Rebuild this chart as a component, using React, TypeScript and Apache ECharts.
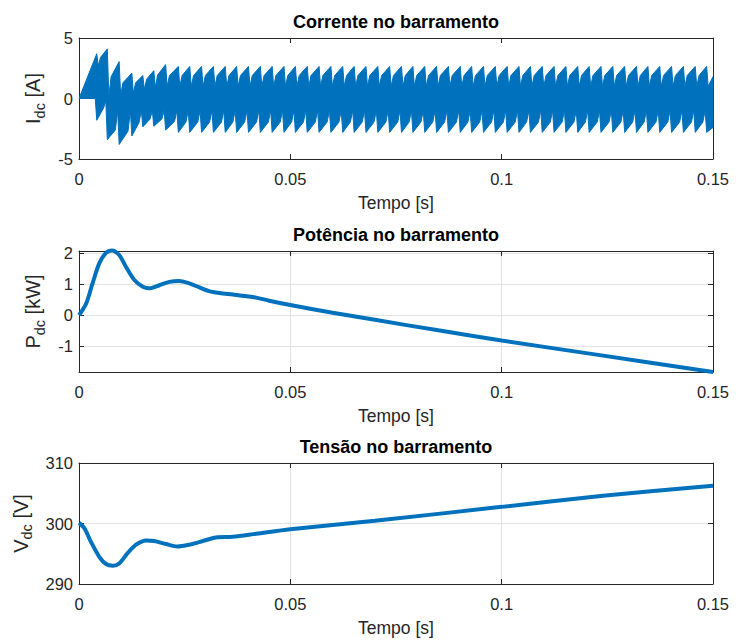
import React, { useEffect, useRef } from "react";
import * as echarts from "echarts";

// ---------- Data ----------
// Time axis ticks [s]
const xTicks = [0, 0.05, 0.1, 0.15];

// Corrente no barramento: envelope of the switching current, one entry per ripple tooth
const toothPeakMs = [
  4.2, 6.7, 9.5, 12.5, 15.1, 17.7, 20.5, 23.5,
  26.2, 29.0, 31.8, 34.6, 37.3, 40.1, 42.9, 45.7, 48.5, 51.2,
  54.0, 56.8, 59.6, 62.4, 65.1, 67.9, 70.7, 73.5, 76.3, 79.0,
  81.8, 84.6, 87.4, 90.2, 92.9, 95.7, 98.5, 101.3, 104.1, 106.8,
  109.6, 112.4, 115.2, 118.0, 120.7, 123.5, 126.3, 129.1, 131.9, 134.6,
  137.4, 140.2, 143.0, 145.8, 148.5,
];
const upperPeakA = [
  3.7, 4.1, 3.05, 2.1, 1.9, 2.3, 2.8, 2.65,
  2.65, 2.65, 2.65, 2.65, 2.65, 2.65, 2.65, 2.65, 2.65, 2.65,
  2.65, 2.65, 2.65, 2.65, 2.65, 2.65, 2.65, 2.65, 2.65, 2.65,
  2.65, 2.65, 2.65, 2.65, 2.65, 2.65, 2.65, 2.65, 2.65, 2.65,
  2.65, 2.65, 2.65, 2.65, 2.65, 2.65, 2.65, 2.65, 2.65, 2.65,
  2.65, 2.65, 2.65, 2.65, 2.65,
];
// shoulder of the rising edge before each peak (null = straight ramp)
const upperShoulderA: (number | null)[] = [
  null, 3.4, 1.8, 1.3, 1.3, 1.6, 1.95, 1.9,
  1.9, 1.9, 1.9, 1.9, 1.9, 1.9, 1.9, 1.9, 1.9, 1.9,
  1.9, 1.9, 1.9, 1.9, 1.9, 1.9, 1.9, 1.9, 1.9, 1.9,
  1.9, 1.9, 1.9, 1.9, 1.9, 1.9, 1.9, 1.9, 1.9, 1.9,
  1.9, 1.9, 1.9, 1.9, 1.9, 1.9, 1.9, 1.9, 1.9, 1.9,
  1.9, 1.9, 1.9, 1.9, 1.9,
];
const upperNotchA = [
  2.7, 0.2, 0.3, 0.45, 0.75, 0.9, 1.0, 1.0,
  1.0, 1.0, 1.0, 1.0, 1.0, 1.0, 1.0, 1.0, 1.0, 1.0,
  1.0, 1.0, 1.0, 1.0, 1.0, 1.0, 1.0, 1.0, 1.0, 1.0,
  1.0, 1.0, 1.0, 1.0, 1.0, 1.0, 1.0, 1.0, 1.0, 1.0,
  1.0, 1.0, 1.0, 1.0, 1.0, 1.0, 1.0, 1.0, 1.0, 1.0,
  1.0, 1.0, 1.0, 1.0, 1.0,
];
const lowerTipA = [
  -1.8, -3.4, -3.8, -3.1, -2.35, -2.3, -2.6, -2.8,
  -2.8, -2.8, -2.8, -2.8, -2.8, -2.8, -2.8, -2.8, -2.8, -2.8,
  -2.8, -2.8, -2.8, -2.8, -2.8, -2.8, -2.8, -2.8, -2.8, -2.8,
  -2.8, -2.8, -2.8, -2.8, -2.8, -2.8, -2.8, -2.8, -2.8, -2.8,
  -2.8, -2.8, -2.8, -2.8, -2.8, -2.8, -2.8, -2.8, -2.8, -2.8,
  -2.8, -2.8, -2.8, -2.8, -2.8,
];
// shoulder of the recovering edge after each tip (null = straight)
const lowerShoulderA: (number | null)[] = [
  -0.8, -2.6, -2.7, -2.0, -1.7, -1.7, -1.9, -1.95,
  -1.95, -1.95, -1.95, -1.95, -1.95, -1.95, -1.95, -1.95, -1.95, -1.95,
  -1.95, -1.95, -1.95, -1.95, -1.95, -1.95, -1.95, -1.95, -1.95, -1.95,
  -1.95, -1.95, -1.95, -1.95, -1.95, -1.95, -1.95, -1.95, -1.95, -1.95,
  -1.95, -1.95, -1.95, -1.95, -1.95, -1.95, -1.95, -1.95, -1.95, -1.95,
  -1.95, -1.95, -1.95, -1.95, null,
];
const lowerNotchA = [
  0, -0.2, -1.0, -1.0, -1.0, -1.0, -1.0, -1.0,
  -1.0, -1.0, -1.0, -1.0, -1.0, -1.0, -1.0, -1.0, -1.0, -1.0,
  -1.0, -1.0, -1.0, -1.0, -1.0, -1.0, -1.0, -1.0, -1.0, -1.0,
  -1.0, -1.0, -1.0, -1.0, -1.0, -1.0, -1.0, -1.0, -1.0, -1.0,
  -1.0, -1.0, -1.0, -1.0, -1.0, -1.0, -1.0, -1.0, -1.0, -1.0,
  -1.0, -1.0, -1.0, -1.0, -1.0,
];
const toothDropMs = 0.35;
const toothShoulderMs = 0.55;
const currentEndA = [1.8, -2.4]; // upper, lower at t = 0.15 s

// Potência no barramento [kW]
const powerMs = [0, 1.7, 3.2, 4.8, 6.4, 7.8, 9.5, 11.1, 13.1, 15.1, 16.6, 19.0, 21.4, 23.7, 26.1, 28.5, 30.8, 33.2, 36.4, 38.1, 41.9, 45, 50, 60, 70, 85, 100, 124, 150];
const powerKW = [0, 0.38, 1.03, 1.68, 2.02, 2.1, 1.95, 1.57, 1.14, 0.92, 0.87, 0.97, 1.08, 1.11, 1.03, 0.9, 0.78, 0.72, 0.67, 0.64, 0.57, 0.47, 0.33, 0.08, -0.15, -0.49, -0.82, -1.31, -1.84];

// Tensão no barramento [V]
const voltMs = [0, 1.3, 2.8, 4.8, 6.4, 8.0, 9.5, 11.5, 13.5, 15.9, 17.8, 20.6, 23.3, 26.1, 29.3, 32.4, 36.4, 41.9, 50, 70, 100, 124, 150];
const voltV = [300.1, 299.2, 297.0, 294.5, 293.3, 293.0, 293.4, 295.1, 296.5, 297.2, 297.1, 296.6, 296.2, 296.5, 297.1, 297.7, 297.8, 298.3, 299.05, 300.45, 302.75, 304.6, 306.25];

const titles = ["Corrente no barramento", "Potência no barramento", "Tensão no barramento"];
const yNames = [
  "{m|I}{s|dc}{m| [A]}",
  "{m|P}{s|dc}{m| [kW]}",
  "{m|V}{s|dc}{m| [V]}",
];

// ---------- Chart ----------
const FONT = "'Liberation Sans', Arial, sans-serif";
const BLUE = "#0072BD";
const AX = "#262626";

export default function App() {
  const ref = useRef<HTMLDivElement>(null);

  useEffect(() => {
    if (!ref.current) return;
    const chart = echarts.init(ref.current, undefined, { renderer: "svg" });

    const last = toothPeakMs.length - 1;
    const upper: number[][] = [[0, 0]];
    const lower: number[][] = [[0, 0]];
    toothPeakMs.forEach((p, k) => {
      const sh = upperShoulderA[k];
      if (k > 0 && sh !== null) {
        upper.push([(toothPeakMs[k - 1] + toothDropMs + toothShoulderMs) / 1000, sh]);
      }
      upper.push([p / 1000, upperPeakA[k]]);
      upper.push([(p + toothDropMs) / 1000, upperNotchA[k]]);

      lower.push([(p - toothDropMs) / 1000, lowerNotchA[k]]);
      lower.push([p / 1000, lowerTipA[k]]);
      const ls = lowerShoulderA[k];
      if (k < last && ls !== null) {
        lower.push([(toothPeakMs[k + 1] - toothDropMs - toothShoulderMs) / 1000, ls]);
      }
    });
    upper.push([0.15, currentEndA[0]]);
    lower.push([0.15, currentEndA[1]]);
    const band = upper.concat(lower.slice().reverse());

    const power = powerMs.map((t, i) => [t / 1000, powerKW[i]]);
    const volt = voltMs.map((t, i) => [t / 1000, voltV[i]]);

    const grids = [
      { left: 79, top: 38, width: 634, height: 121 },
      { left: 79, top: 251, width: 634, height: 121 },
      { left: 79, top: 463, width: 634, height: 121 },
    ];
    const titleY = [22, 235, 447];
    const yCfg = [
      { min: -5, max: 5, interval: 5, grid: false, gap: 19 },
      { min: -1.84, max: 2.08, interval: undefined, grid: true, gap: 18 },
      { min: 290, max: 310, interval: 10, grid: true, gap: 29 },
    ];

    const tickStyle = { show: true, inside: true, length: 5, lineStyle: { color: AX, width: 1 } };
    const lineStyleAx = { show: true, onZero: false, lineStyle: { color: AX, width: 1 } };
    const gridLine = { show: true, lineStyle: { color: "#e2e2e2", width: 1 } };
    const labelTxt = { color: AX, fontSize: 16.5, fontFamily: FONT };

    const xAxis: any[] = [];
    const yAxis: any[] = [];
    for (let g = 0; g < 3; g++) {
      xAxis.push({
        type: "value",
        gridIndex: g,
        position: "bottom",
        min: xTicks[0],
        max: xTicks[xTicks.length - 1],
        interval: xTicks[1] - xTicks[0],
        axisLine: lineStyleAx,
        axisTick: tickStyle,
        axisLabel: { ...labelTxt, margin: 11, formatter: (v: number) => String(+v.toFixed(4)) },
        splitLine: yCfg[g].grid ? gridLine : { show: false },
        name: "Tempo [s]",
        nameLocation: "middle",
        nameGap: 35,
        nameTextStyle: { color: AX, fontSize: 17.5, fontFamily: FONT },
      });
    }
    for (let g = 0; g < 3; g++) {
      xAxis.push({
        type: "value",
        gridIndex: g,
        position: "top",
        min: xTicks[0],
        max: xTicks[xTicks.length - 1],
        interval: xTicks[1] - xTicks[0],
        axisLine: lineStyleAx,
        axisTick: tickStyle,
        axisLabel: { show: false },
        splitLine: { show: false },
      });
    }
    for (let g = 0; g < 3; g++) {
      const c = yCfg[g];
      yAxis.push({
        type: "value",
        gridIndex: g,
        position: "left",
        min: c.min,
        max: c.max,
        interval: c.interval,
        splitNumber: 4,
        axisLine: lineStyleAx,
        axisTick: tickStyle,
        axisLabel: {
          ...labelTxt,
          margin: 6,
          formatter: (v: number) => (Math.abs(v - Math.round(v)) < 1e-6 ? String(Math.round(v)) : ""),
        },
        splitLine: c.grid ? gridLine : { show: false },
        name: yNames[g],
        nameLocation: "middle",
        nameRotate: 90,
        nameGap: c.gap,
        nameTextStyle: {
          color: AX,
          fontFamily: FONT,
          rich: {
            m: { fontSize: 20, color: AX, fontFamily: FONT, verticalAlign: "middle" },
            s: { fontSize: 14.5, color: AX, fontFamily: FONT, verticalAlign: "bottom", padding: [13, 0, 0, 0] },
          },
        },
      });
    }
    for (let g = 0; g < 3; g++) {
      const c = yCfg[g];
      yAxis.push({
        type: "value",
        gridIndex: g,
        position: "right",
        min: c.min,
        max: c.max,
        interval: c.interval,
        splitNumber: 4,
        axisLine: lineStyleAx,
        axisTick: tickStyle,
        axisLabel: { show: false },
        splitLine: { show: false },
      });
    }

    const option: any = {
      animation: false,
      backgroundColor: "#ffffff",
      grid: grids,
      xAxis,
      yAxis,
      graphic: titles.map((t, i) => ({
        type: "text",
        x: 396,
        y: titleY[i],
        style: {
          text: t,
          textAlign: "center",
          textVerticalAlign: "middle",
          fontSize: 18,
          fontWeight: "bold",
          fontFamily: FONT,
          fill: "#000",
        },
      })),
      series: [
        {
          type: "custom",
          coordinateSystem: "cartesian2d",
          xAxisIndex: 0,
          yAxisIndex: 0,
          data: [[0, 0]],
          clip: false,
          z: 3,
          renderItem: (_params: any, api: any) => ({
            type: "polygon",
            shape: { points: band.map((p) => api.coord(p)) },
            style: { fill: BLUE, stroke: BLUE, lineWidth: 1 },
          }),
        },
        {
          type: "line",
          xAxisIndex: 1,
          yAxisIndex: 1,
          data: power,
          showSymbol: false,
          symbol: "none",
          smooth: 0.3,
          clip: false,
          lineStyle: { color: BLUE, width: 4 },
          z: 3,
        },
        {
          type: "line",
          xAxisIndex: 2,
          yAxisIndex: 2,
          data: volt,
          showSymbol: false,
          symbol: "none",
          smooth: 0.3,
          clip: false,
          lineStyle: { color: BLUE, width: 4 },
          z: 3,
        },
      ],
    };

    chart.setOption(option);
    return () => chart.dispose();
  }, []);

  return (
    <div
      ref={ref}
      style={{ position: "fixed", left: 0, top: 0, width: 744, height: 641, background: "#fff" }}
    />
  );
}
